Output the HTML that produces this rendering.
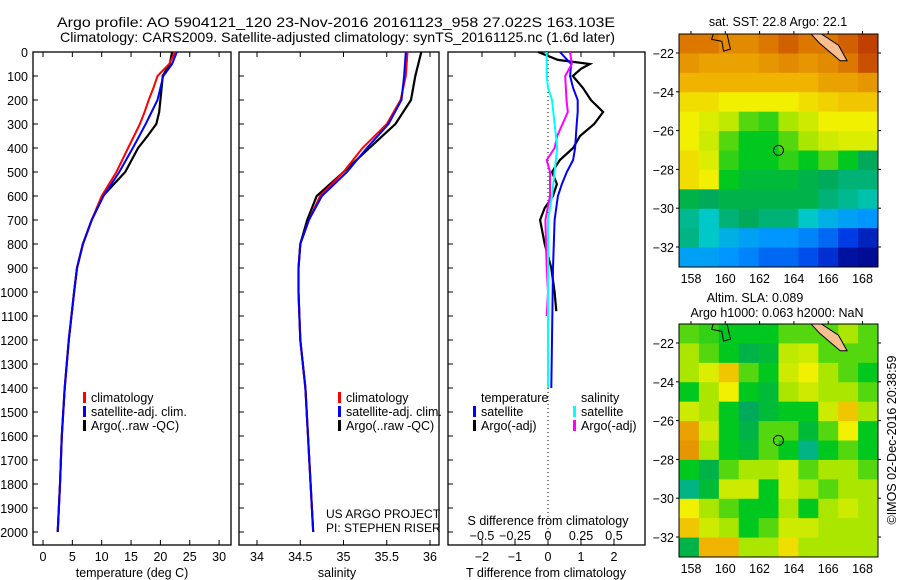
<!DOCTYPE html>
<html><head><meta charset="utf-8"><style>
body{margin:0;background:#fff}
svg{display:block;font-family:"Liberation Sans",sans-serif;font-size:12.5px}
</style></head><body>
<svg id="fig" width="900" height="580" xmlns="http://www.w3.org/2000/svg">
<text x="57" y="27" textLength="558" lengthAdjust="spacingAndGlyphs" font-size="14">Argo profile: AO 5904121_120 23-Nov-2016 20161123_958 27.022S 163.103E</text>
<text x="60" y="42" textLength="555" lengthAdjust="spacingAndGlyphs" font-size="14">Climatology: CARS2009. Satellite-adjusted climatology: synTS_20161125.nc (1.6d later)</text>
<g id="g"></g>
</svg>
<script>
// ---- data ----
const depthT = [0,50,100,150,200,250,300,350,400,500,600,700,800,900,1000,1200,1400,1600,1800,2000];
const climT  = [22.5,21.5,19.5,18.8,18,17.3,16.5,15.5,14.5,12.5,10,8.3,6.8,5.8,5.3,4.4,3.7,3.2,2.9,2.5];
const satT   = [22.8,22,20.5,20,19.5,18.5,17.5,16.4,15.3,13,10.3,8.3,6.8,5.8,5.3,4.4,3.7,3.2,2.9,2.5];
const argoT  = [22,21.6,20.4,20.2,20,19.8,19.3,17.8,16.2,14,10.2,8.3,6.8,5.8,5.3,4.4,3.7,3.2,2.9,2.5];
const depthS = [0,100,200,300,400,500,600,700,800,900,1000,1200,1400,1600,1800,2000];
const climS  = [35.74,35.72,35.66,35.5,35.22,35.0,34.73,34.6,34.5,34.48,34.48,34.5,34.56,34.59,34.62,34.65];
const satS   = [35.72,35.7,35.67,35.52,35.27,35.04,34.75,34.6,34.5,34.48,34.48,34.5,34.56,34.59,34.62,34.65];
const argoS  = [35.9,35.83,35.78,35.6,35.3,35.0,34.69,34.58,34.5,34.48,34.48,34.5,34.56,34.59,34.62,34.65];
const depthD = [0,33,50,70,100,150,200,250,300,350,400,450,500,550,600,650,700,800,900,1000,1080];
const argoDT = [-0.3,0.3,1.27,1.0,0.75,1.06,1.3,1.67,1.4,0.97,0.76,0.36,0.12,0.27,0.15,-0.1,-0.24,-0.1,0.1,0.2,0.25];
const depthD2 = [0,50,100,150,200,250,300,400,450,500,550,600,700,900,1200,1400];
const satDT  = [0.36,0.7,0.67,0.76,0.9,0.9,0.87,0.82,0.76,0.57,0.42,0.3,0.2,0.15,0.12,0.1];
const depthD3 = [0,50,100,200,250,300,350,400,450,500,600,700,800,900,1000,1100];
const argoDS = [0.167,0.18,0.13,0.14,0.15,0.11,0.07,0.05,-0.01,0.015,0.015,-0.02,-0.015,-0.01,0,-0.01];
const depthD4 = [0,100,150,200,300,400,500,600,700,800,1000,1400];
const satDS  = [-0.01,-0.01,0,0.03,0.05,0.07,0.05,0.03,0,0,0,0];
const depthTicks = [0,100,200,300,400,500,600,700,800,900,1000,1100,1200,1300,1400,1500,1600,1700,1800,1900,2000];
const tTicks = [0,5,10,15,20,25,30];
const sTicks = [34,34.5,35,35.5,36];
const dTTicks = [-2,-1,0,1,2];
const dSTicks = [-0.5,-0.25,0,0.25,0.5];
const lonTicks = [158,160,162,164,166,168];
const latTicks = [-22,-24,-26,-28,-30,-32];
const sstGrid = [
[.85,.85,.82,.82,.85,.88,.85,.85,.88,.92],
[.8,.78,.78,.78,.8,.82,.8,.82,.85,.9],
[.75,.75,.75,.75,.75,.75,.75,.78,.78,.8],
[.68,.68,.65,.65,.65,.65,.68,.7,.72,.72],
[.65,.62,.58,.5,.48,.55,.6,.65,.65,.65],
[.65,.6,.5,.45,.45,.5,.55,.6,.62,.62],
[.68,.62,.48,.45,.45,.48,.45,.5,.45,.38],
[.68,.65,.45,.42,.42,.42,.4,.38,.36,.36],
[.4,.38,.4,.4,.4,.4,.4,.36,.34,.32],
[.34,.3,.36,.38,.36,.36,.3,.25,.22,.2],
[.35,.3,.25,.22,.2,.2,.18,.15,.1,.06],
[.22,.22,.2,.18,.15,.15,.12,.08,.03,.02]];
const slaGrid = [
[.5,.48,.45,.45,.45,.5,.5,.5,.55,.5],
[.55,.5,.45,.4,.42,.58,.6,.5,.5,.5],
[.55,.62,.72,.5,.45,.6,.65,.55,.5,.45],
[.45,.55,.65,.45,.42,.55,.6,.55,.55,.5],
[.6,.55,.45,.38,.42,.45,.45,.6,.72,.55],
[.78,.6,.45,.4,.5,.5,.42,.5,.65,.45],
[.8,.55,.45,.42,.5,.45,.35,.45,.5,.45],
[.45,.4,.5,.55,.55,.6,.5,.55,.55,.5],
[.35,.42,.6,.6,.45,.6,.55,.5,.55,.55],
[.65,.55,.5,.45,.45,.55,.45,.55,.6,.55],
[.72,.6,.55,.45,.5,.6,.6,.55,.55,.55],
[.4,.75,.75,.55,.55,.68,.55,.55,.55,.55]];

const NS="http://www.w3.org/2000/svg";
const G=document.getElementById('g');
function el(t,a,txt){const e=document.createElementNS(NS,t);for(const k in a)e.setAttribute(k,a[k]);if(txt!==undefined)e.textContent=txt;G.appendChild(e);return e;}
const yD=d=>52+d*0.24;
const pTop=52,pBot=545;
function line(xs,ys,fx,col,w,name){
  const pts=xs.map((v,i)=>fx(v).toFixed(1)+','+yD(ys[i]).toFixed(1)).join(' ');
  const p=el('polyline',{points:pts,fill:'none',stroke:col,'stroke-width':w});
  
  
}
function frame(x0,x1,name){
  const r=el('rect',{x:x0,y:pTop,width:x1-x0,height:pBot-pTop,fill:'none',stroke:'#000','stroke-width':1.3});
  
  
  depthTicks.forEach(d=>el('line',{x1:x0,x2:x0+5,y1:yD(d),y2:yD(d),stroke:'#000'}));
}
function xticks(vals,fx,y,labels,name){
  vals.forEach(v=>{
    el('line',{x1:fx(v),x2:fx(v),y1:pTop,y2:pTop+5,stroke:'#000'});
    el('line',{x1:fx(v),x2:fx(v),y1:pBot,y2:pBot-5,stroke:'#000'});
    if(labels){const t=el('text',{x:fx(v),y:y,'text-anchor':'middle'},String(v).replace('-','−'));
      
      }
  });
}
function txt(x,y,s,name,anchor){
  const t=el('text',{x:x,y:y,'text-anchor':anchor||'start'},s);
  
  
  return t;
}
depthTicks.forEach(d=>txt(28,yD(d)+5,d,'depth-tick-label','end'));
// panel 1
const fT=v=>43+5.87*v;
frame(33,231,'temperature-panel');
xticks(tTicks,fT,561,true,'temperature-tick-label');
txt(132,577,'temperature (deg C)','temperature-axis-title','middle');
line(argoT,depthT,fT,'#000',2.2,'argo-temperature-line');
line(climT,depthT,fT,'#f00',2,'climatology-temperature-line');
line(satT,depthT,fT,'#00f',2,'satellite-temperature-line');
// panel 2
const fS=v=>257+86.5*(v-34);
frame(239,439,'salinity-panel');
xticks(sTicks,fS,561,true,'salinity-tick-label');
txt(337,577,'salinity','salinity-axis-title','middle');
line(argoS,depthS,fS,'#000',2.2,'argo-salinity-line');
line(climS,depthS,fS,'#f00',2,'climatology-salinity-line');
line(satS,depthS,fS,'#00f',2,'satellite-salinity-line');
function leg(x,y,col,s,name){
  el('rect',{x:x,y:y-10,width:3,height:11,fill:col});
  txt(x+8,y,s,name);
}
[[83,'temp'],[338,'sal']].forEach(([x,n])=>{
  leg(x,402,'#f00','climatology',n+'-legend-climatology');
  leg(x,416,'#00f','satellite-adj. clim.',n+'-legend-satellite');
  leg(x,430,'#000','Argo(..raw -QC)',n+'-legend-argo');
});
txt(326,518,'US ARGO PROJECT','project-label').setAttribute('font-size','12');
txt(326,532,'PI: STEPHEN RISER','pi-label').setAttribute('font-size','12');
// panel 3
const fDT=v=>548+33*v, fDS=v=>548+132*v;
frame(448,645,'difference-panel');
el('line',{x1:548,x2:548,y1:pTop,y2:pBot,stroke:'#000','stroke-dasharray':'1,3'});
xticks(dTTicks,fDT,561,true,'t-diff-tick-label');
dSTicks.forEach(v=>txt(fDS(v),540,String(v).replace('-','−'),'s-diff-tick-label','middle'));
txt(548,525,'S difference from climatology','s-diff-axis-title','middle');
txt(546,577,'T difference from climatology','t-diff-axis-title','middle');
line(argoDT,depthD,fDT,'#000',2.2,'argo-t-diff-line');
line(satDT,depthD2,fDT,'#00f',2,'satellite-t-diff-line');
line(argoDS,depthD3,fDS,'#f0f',2,'argo-s-diff-line');
line(satDS,depthD4,fDS,'#0ff',2,'satellite-s-diff-line');
txt(481,402,'temperature','legend-temperature-header');
txt(581,402,'salinity','legend-salinity-header');
leg(473,416,'#00f','satellite','legend-t-satellite');
leg(473,430,'#000','Argo(-adj)','legend-t-argo');
leg(573,416,'#0ff','satellite','legend-s-satellite');
leg(573,430,'#f0f','Argo(-adj)','legend-s-argo');
// maps
const stops=[[0,[0,0,128]],[.1,[0,60,230]],[.2,[0,150,255]],[.3,[0,200,200]],[.38,[0,170,90]],[.45,[0,200,30]],[.55,[170,230,0]],[.65,[240,240,0]],[.75,[240,180,0]],[.85,[220,120,0]],[.95,[180,40,0]],[1,[150,0,0]]];
function cmap(v){for(let i=1;i<stops.length;i++){if(v<=stops[i][0]){const[a,ca]=stops[i-1],[b,cb]=stops[i];const f=(v-a)/(b-a);return'rgb('+ca.map((c,k)=>Math.round(c+(cb[k]-c)*f)).join(',')+')';}}return'rgb(150,0,0)';}
function map(y0,grid,name){
  const x0=679,w=199,h=233,lon=v=>691+(v-158)*17.15,lat=v=>y0+19+(-22-v)*19.4;
  const cw=w/grid[0].length,ch=h/grid.length;
  grid.forEach((row,r)=>row.forEach((v,c)=>{
    const cell=el('rect',{x:x0+c*cw,y:y0+r*ch,width:cw+0.5,height:ch+0.5,fill:cmap(v)});
    
    
  }));
  el('path',{d:`M${lon(165)} ${y0} L${lon(165.6)} ${y0} L${lon(166.6)} ${lat(-21.6)} L${lon(167.1)} ${lat(-22.4)} L${lon(166.7)} ${lat(-22.4)} L${lon(165.5)} ${lat(-21.5)} Z`,fill:'#f8c090',stroke:'#000'});
  el('path',{d:`M${lon(159.3)} ${y0} L${lon(159.2)} ${lat(-21.3)} L${lon(159.8)} ${lat(-21.4)} L${lon(159.9)} ${lat(-21.9)} L${lon(160.3)} ${lat(-21.8)} L${lon(160.1)} ${y0}`,fill:'none',stroke:'#000'});
  const c=el('circle',{cx:lon(163.1),cy:lat(-27.02),r:5,fill:'none',stroke:'#000'});
  
  
  const f=el('rect',{x:x0,y:y0,width:w,height:h,fill:'none',stroke:'#000'});
  
  
  lonTicks.forEach(v=>{el('line',{x1:lon(v),x2:lon(v),y1:y0,y2:y0-3,stroke:'#000'});
    txt(lon(v),y0+h+16,v,'longitude-label','middle');});
  latTicks.forEach(v=>{el('line',{x1:x0-3,x2:x0,y1:lat(v),y2:lat(v),stroke:'#000'});
    el('line',{x1:x0+w,x2:x0+w+3,y1:lat(v),y2:lat(v),stroke:'#000'});
    txt(x0-5,lat(v)+5,'−'+(-v),'latitude-label','end');});
}
map(34,sstGrid,'sst-map');
map(324,slaGrid,'sla-map');
txt(778,26,'sat. SST: 22.8 Argo: 22.1','sst-map-title','middle');
txt(755,302,'Altim. SLA: 0.089','sla-map-title','middle');
txt(777,317,'Argo h1000: 0.063 h2000: NaN','sla-map-subtitle','middle');
const ts=txt(896,440,'©IMOS 02-Dec-2016 20:38:59','imos-timestamp','middle');
ts.setAttribute('transform','rotate(-90 896 440)');
</script>
</body></html>
